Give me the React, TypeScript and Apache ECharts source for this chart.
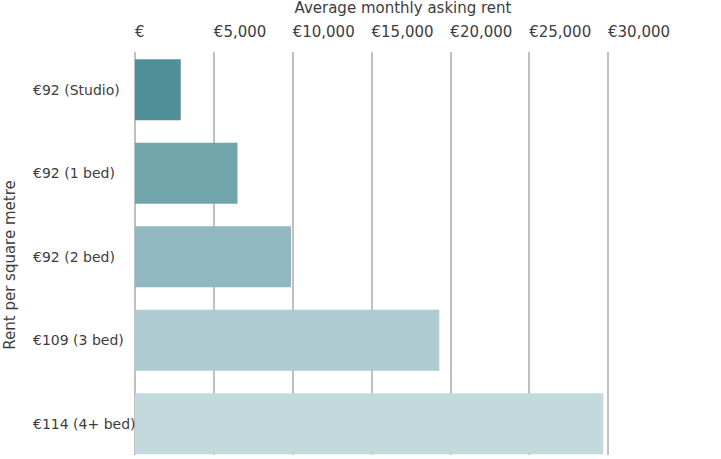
import React, { useEffect, useRef } from "react";
import * as echarts from "echarts";

const categories = ["€92 (Studio)", "€92 (1 bed)", "€92 (2 bed)", "€109 (3 bed)", "€114 (4+ bed)"];
const rents = [2900, 6500, 9900, 19300, 29700];
const barColors = ["#508f98", "#70a5ab", "#91b8c0", "#adcbd1", "#c2d9dd"];
const xTitle = "Average monthly asking rent";
const yTitle = "Rent per square metre";

const FONT = "DejaVu Sans";
const TXT = "#3d3d3d";

export default function App() {
  const ref = useRef<HTMLDivElement>(null);
  useEffect(() => {
    const chart = echarts.init(ref.current!, null, { renderer: "svg" });
    chart.setOption({
      animation: false,
      grid: [
        { left: 135, right: 113, top: 48, height: 417.5, containLabel: false },
        { left: 135, right: 113, top: 52, height: 403, containLabel: false },
      ],
      xAxis: [
        { type: "value", gridIndex: 0, min: 0, max: 30000, show: false },
        {
          type: "value",
          gridIndex: 1,
          position: "top",
          min: 0,
          max: 30000,
          interval: 5000,
          axisLine: { show: false },
          axisTick: { show: false },
          splitLine: { show: true, lineStyle: { color: "#ababab", width: 1.5 } },
          axisLabel: {
            align: "left",
            margin: 13,
            fontFamily: FONT,
            fontSize: 15,
            color: TXT,
            formatter: (v: number) => (v === 0 ? "€" : "€" + v.toLocaleString("en-US")),
          },
        },
      ],
      yAxis: [
        {
          type: "category",
          gridIndex: 0,
          data: categories,
          inverse: true,
          z: 10,
          axisLine: { show: false },
          axisTick: { show: false },
          splitLine: { show: false },
          axisLabel: { align: "left", margin: 102, fontFamily: FONT, fontSize: 14, color: TXT },
        },
        { type: "value", gridIndex: 1, show: false },
      ],
      graphic: [
        {
          type: "text",
          x: 403,
          y: 0,
          style: { text: xTitle, align: "center", verticalAlign: "top", fontFamily: FONT, fontSize: 15, fill: TXT },
        },
        {
          type: "text",
          x: 2,
          y: 265,
          rotation: Math.PI / 2,
          style: {
            text: yTitle,
            align: "center",
            verticalAlign: "top",
            fontFamily: FONT,
            fontSize: 15,
            fill: TXT,
          },
        },
      ],
      series: [
        {
          type: "bar",
          xAxisIndex: 0,
          yAxisIndex: 0,
          barCategoryGap: "27%",
          data: rents.map((v, i) => ({ value: v, itemStyle: { color: barColors[i] } })),
        },
      ],
    });
    return () => chart.dispose();
  }, []);
  return <div ref={ref} style={{ width: 721, height: 470, position: "absolute", left: 0, top: 0 }} />;
}
